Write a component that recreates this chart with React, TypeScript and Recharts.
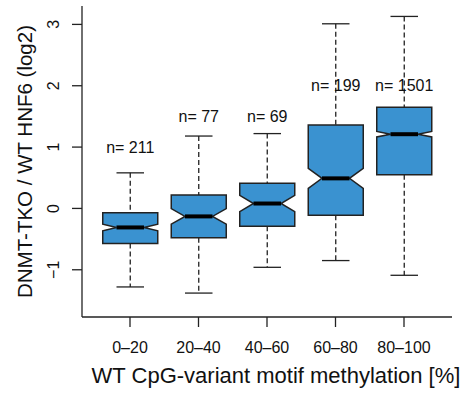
import React from 'react';
import { BarChart, Bar, XAxis, YAxis, Label } from 'recharts';

// methylation bins
const categories = ['0–20', '20–40', '40–60', '60–80', '80–100'];
// box stats (log2 ratio)
const whiskerLow = [-1.28, -1.38, -0.96, -0.85, -1.09];
const q1 = [-0.57, -0.48, -0.29, -0.11, 0.55];
const medians = [-0.31, -0.13, 0.08, 0.49, 1.21];
const q3 = [-0.07, 0.22, 0.41, 1.36, 1.65];
const whiskerHigh = [0.58, 1.18, 1.22, 3.01, 3.13];
const counts = [211, 77, 69, 199, 1501];
// where the "n=" text sits on the y scale
const countLabelY = [1, 1.5, 1.5, 2, 2];
const yTicks = [-1, 0, 1, 2, 3];

const FONT = '"Liberation Sans", Arial, Helvetica, sans-serif';
const FILL = '#3A92D0';
const INK = '#222';

const data = categories.map((cat, i) => {
  const iqr = q3[i] - q1[i];
  const notch = (1.58 * iqr) / Math.sqrt(counts[i]); // R's notch formula
  return {
    cat,
    range: [whiskerLow[i], whiskerHigh[i]],
    lo: whiskerLow[i],
    hi: whiskerHigh[i],
    q1: q1[i],
    med: medians[i],
    q3: q3[i],
    nLo: medians[i] - notch,
    nHi: medians[i] + notch,
    n: counts[i],
    labelY: countLabelY[i],
  };
});

const BoxShape = (props: any) => {
  const { x, y, width, height, payload } = props;
  const top = Math.min(y, y + height);
  const bot = Math.max(y, y + height);
  const { lo, hi } = payload;
  // linear map using the bar's own scaled extent (whisker low -> whisker high)
  const py = (v: number) => top + ((hi - v) / (hi - lo)) * (bot - top);
  const cx = x + width / 2;
  const w = width / 2;
  const hw = w * 0.5;

  const pts = [
    [cx - w, py(payload.q1)],
    [cx + w, py(payload.q1)],
    [cx + w, py(payload.nLo)],
    [cx + hw, py(payload.med)],
    [cx + w, py(payload.nHi)],
    [cx + w, py(payload.q3)],
    [cx - w, py(payload.q3)],
    [cx - w, py(payload.nHi)],
    [cx - hw, py(payload.med)],
    [cx - w, py(payload.nLo)],
  ]
    .map((p) => p.join(','))
    .join(' ');

  return (
    <g>
      {/* whiskers */}
      <line x1={cx} x2={cx} y1={py(hi)} y2={py(payload.q3)} stroke={INK} strokeWidth={1.3} strokeDasharray="5 3" />
      <line x1={cx} x2={cx} y1={py(payload.q1)} y2={py(lo)} stroke={INK} strokeWidth={1.3} strokeDasharray="5 3" />
      <line x1={cx - hw} x2={cx + hw} y1={py(hi)} y2={py(hi)} stroke={INK} strokeWidth={1.3} />
      <line x1={cx - hw} x2={cx + hw} y1={py(lo)} y2={py(lo)} stroke={INK} strokeWidth={1.3} />
      {/* notched box */}
      <polygon points={pts} fill={FILL} stroke={INK} strokeWidth={1.5} strokeLinejoin="miter" />
      <line x1={cx - hw} x2={cx + hw} y1={py(payload.med)} y2={py(payload.med)} stroke="#000" strokeWidth={4} />
      {/* sample size */}
      <text x={cx} y={py(payload.labelY)} dy={5.5} textAnchor="middle" fontSize={16} fontFamily={FONT} fill="#111">
        {`n= ${payload.n}`}
      </text>
    </g>
  );
};

const YTick = (props: any) => {
  const { x, y, payload } = props;
  const tx = x - 13;
  const v = payload.value;
  const txt = v < 0 ? `\u2212${Math.abs(v)}` : `${v}`;
  return (
    <text x={tx} y={y} transform={`rotate(-90 ${tx} ${y})`} textAnchor="middle" fontSize={16} fontFamily={FONT} fill="#111">
      {txt}
    </text>
  );
};

export default function App() {
  return (
    <div style={{ position: 'absolute', left: 0, top: 0, background: '#fff' }}>
      <BarChart width={469} height={396} data={data} margin={{ top: 6, right: 17, bottom: 0, left: 0 }}>
        <XAxis
          dataKey="cat"
          height={79}
          padding={{ left: 13.75, right: 13.75 }}
          tickSize={10}
          tickMargin={15}
          tick={{ fontSize: 16, fontFamily: FONT, fill: '#111' }}
          tickLine={{ stroke: INK, strokeWidth: 1.3 }}
          axisLine={{ stroke: INK, strokeWidth: 1.3 }}
        >
          <Label
            content={({ viewBox }: any) => (
              <text
                x={viewBox.x + viewBox.width / 2 + 9}
                y={viewBox.y + viewBox.height - 13}
                textAnchor="middle"
                fontSize={22}
                fontFamily={FONT}
                fill="#111"
              >
                WT CpG-variant motif methylation [%]
              </text>
            )}
          />
        </XAxis>
        <XAxis xAxisId="top" dataKey="cat" orientation="top" height={0} tick={false} tickLine={false} axisLine={{ stroke: INK, strokeWidth: 1.3 }} />
        <YAxis
          type="number"
          width={82}
          domain={[-1.77, 3.3]}
          ticks={yTicks}
          allowDataOverflow
          tickSize={10}
          tickMargin={0}
          tick={<YTick />}
          tickLine={{ stroke: INK, strokeWidth: 1.3 }}
          axisLine={{ stroke: INK, strokeWidth: 1.3 }}
        >
          <Label
            content={({ viewBox }: any) => {
              const lx = viewBox.x + 31.5;
              const ly = viewBox.y + viewBox.height / 2;
              return (
                <text x={lx} y={ly} transform={`rotate(-90 ${lx} ${ly})`} textAnchor="middle" fontSize={20.5} fontFamily={FONT} fill="#111">
                  DNMT-TKO / WT HNF6 (log2)
                </text>
              );
            }}
          />
        </YAxis>
        <YAxis yAxisId="right" orientation="right" type="number" width={0} domain={[-1.77, 3.3]} tick={false} tickLine={false} axisLine={{ stroke: INK, strokeWidth: 1.3 }} />
        <Bar dataKey="range" barSize={55} shape={<BoxShape />} isAnimationActive={false} />
      </BarChart>
    </div>
  );
}
